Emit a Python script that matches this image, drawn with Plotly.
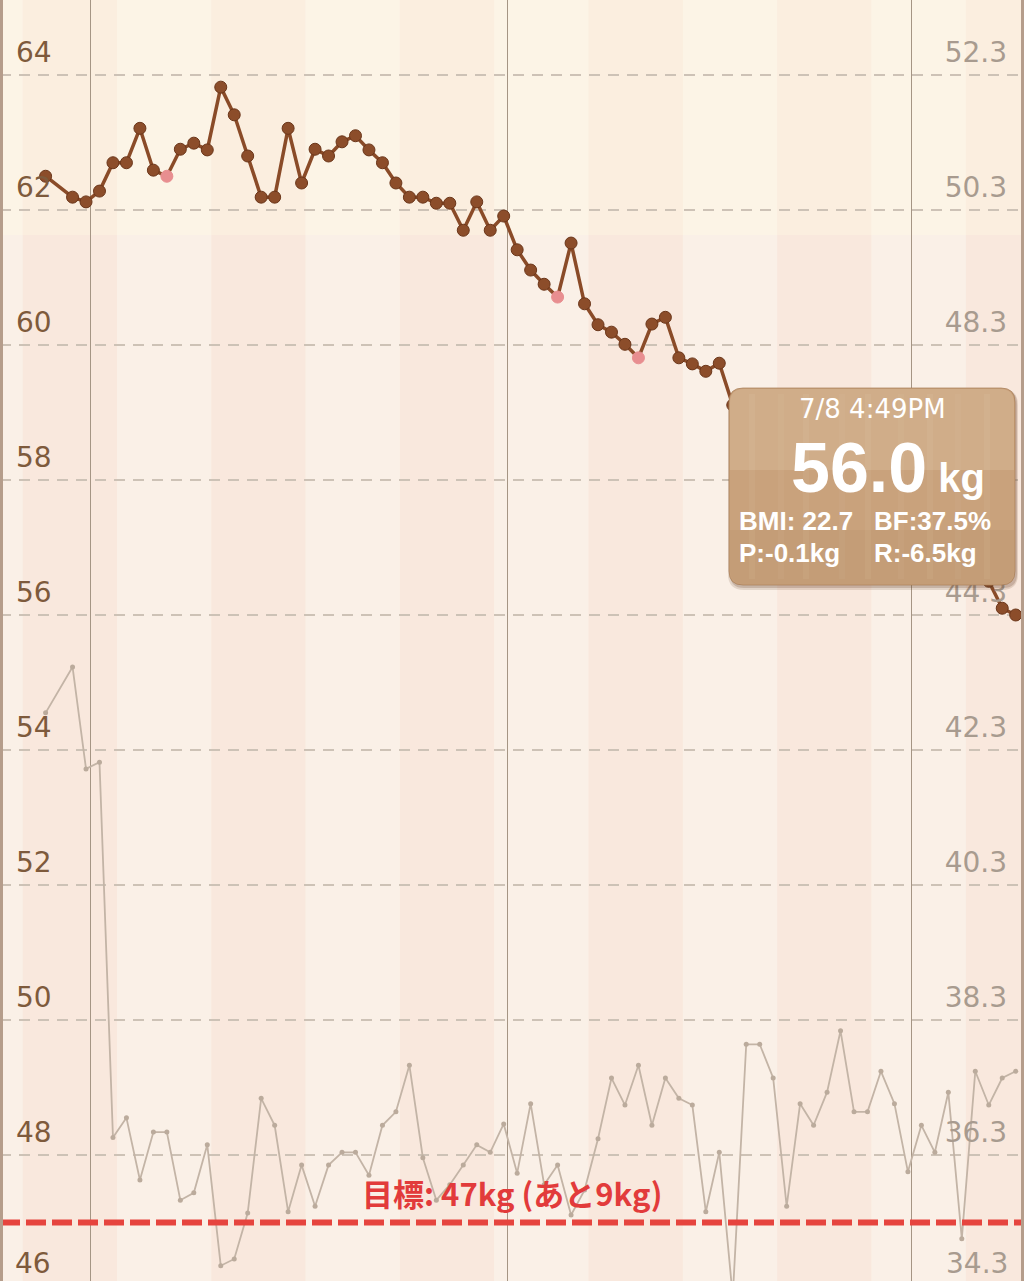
import plotly.graph_objects as go

# ---------------- data ----------------
dates = [
    "2020-04-27", "2020-04-29", "2020-04-30",
    "2020-05-01", "2020-05-02", "2020-05-03", "2020-05-04", "2020-05-05", "2020-05-06", "2020-05-07",
    "2020-05-08", "2020-05-09", "2020-05-10", "2020-05-11", "2020-05-12", "2020-05-13", "2020-05-14",
    "2020-05-15", "2020-05-16", "2020-05-17", "2020-05-18", "2020-05-19", "2020-05-20", "2020-05-21",
    "2020-05-22", "2020-05-23", "2020-05-24", "2020-05-25", "2020-05-26", "2020-05-27", "2020-05-28",
    "2020-05-29", "2020-05-30", "2020-05-31",
    "2020-06-01", "2020-06-02", "2020-06-03", "2020-06-04", "2020-06-05", "2020-06-06", "2020-06-07",
    "2020-06-08", "2020-06-09", "2020-06-10", "2020-06-11", "2020-06-12", "2020-06-13", "2020-06-14",
    "2020-06-15", "2020-06-16", "2020-06-17", "2020-06-18", "2020-06-19", "2020-06-20", "2020-06-21",
    "2020-06-22", "2020-06-23", "2020-06-24", "2020-06-25", "2020-06-26", "2020-06-27", "2020-06-28",
    "2020-06-29", "2020-06-30",
    "2020-07-01", "2020-07-02", "2020-07-03", "2020-07-04", "2020-07-05", "2020-07-06", "2020-07-07",
    "2020-07-08",
]
measure_time = "16:49"

weight_kg = [
    62.50, 62.19, 62.12,
    62.28, 62.70, 62.70, 63.21, 62.59, 62.50, 62.90, 62.99, 62.89, 63.82, 63.41, 62.80, 62.19, 62.19,
    63.21, 62.40, 62.90, 62.80, 63.01, 63.10, 62.89, 62.70, 62.40, 62.19, 62.19, 62.10, 62.10, 61.70,
    62.12, 61.70, 61.91,
    61.41, 61.11, 60.90, 60.71, 61.51, 60.61, 60.30, 60.19, 60.01, 59.81, 60.31, 60.41, 59.81, 59.72,
    59.61, 59.73, 59.11, 59.00, 58.90, 58.70, 58.80, 58.50, 58.40, 58.30, 58.10, 58.20, 57.90, 57.80,
    57.60, 57.50,
    57.30, 57.20, 57.00, 56.80, 56.70, 56.50, 56.10, 56.00,
]

body_fat_pct = [
    42.85, 43.53, 42.02,
    42.12, 36.56, 36.85, 35.93, 36.64, 36.64, 35.63, 35.74, 36.45, 34.66, 34.76, 35.44, 37.14, 36.74,
    35.46, 36.15, 35.54, 36.15, 36.34, 36.34, 36.00, 36.74, 36.94, 37.63, 36.26, 35.63, 35.86, 36.15,
    36.45, 36.34, 36.76,
    36.03, 37.06, 35.86, 36.15, 35.41, 35.78, 36.54, 37.44, 37.04, 37.63, 36.74, 37.44, 37.14, 37.04,
    35.46, 36.34, 34.20, 37.94, 37.94, 37.44, 35.54, 37.06, 36.74, 37.23, 38.14, 36.94, 36.94, 37.54,
    37.06, 36.05,
    36.74, 36.34, 37.23, 35.06, 37.54, 37.04, 37.44, 37.54,
]

highlight_dates = ["2020-05-06", "2020-06-04", "2020-06-10"]

weight_ticks = [46, 48, 50, 52, 54, 56, 58, 60, 62, 64]
fat_ticks = [34.3, 36.3, 38.3, 40.3, 42.3, 44.3, 46.3, 48.3, 50.3, 52.3]
month_starts = ["2020-05-01", "2020-06-01", "2020-07-01"]
week_starts = ["2020-04-19", "2020-04-26", "2020-05-03", "2020-05-10", "2020-05-17", "2020-05-24",
               "2020-05-31", "2020-06-07", "2020-06-14", "2020-06-21", "2020-06-28", "2020-07-05",
               "2020-07-12"]

goal_kg = 47
goal_text = "目標: 47kg (あと9kg)"
tip_date = "7/8 4:49PM"
tip_weight = "56.0"
tip_bmi = "BMI: 22.7"
tip_bf = "BF:37.5%"
tip_prev = "P:-0.1kg"
tip_rest = "R:-6.5kg"

# ---------------- layout constants ----------------
W, H = 1024, 1281
Y_LO, Y_HI = 46.133, 65.111
FAT_OFFSET = 11.7
X_RANGE = ["2020-04-24 07:36", "2020-07-09 07:36"]


def X(px):
    return px / W


def Y(py):
    return 1 - py / H


x_vals = [d + " " + measure_time for d in dates]

fig = go.Figure()

# body fat (right axis)
fig.add_trace(go.Scatter(
    x=x_vals, y=body_fat_pct, yaxis="y2", mode="lines+markers",
    line=dict(color="#C3B4A6", width=1.8),
    marker=dict(size=5, color="#BBAB9C"),
    hoverinfo="skip",
))

# weight (left axis)
mcolors = ["#E88E90" if d in highlight_dates else "#8C4D2A" for d in dates]
mlines = ["#E88E90" if d in highlight_dates else "#6B361A" for d in dates]
fig.add_trace(go.Scatter(
    x=x_vals, y=weight_kg, mode="lines+markers",
    line=dict(color="#8A4B28", width=3.5),
    marker=dict(size=12, color=mcolors, line=dict(color=mlines, width=1)),
    hoverinfo="skip",
))

shapes = []
# weekly background stripes
TOP_SPLIT = Y(235)
for i in range(len(week_starts) - 1):
    pink = (i % 2 == 1)
    shapes.append(dict(type="rect", xref="x", yref="paper", x0=week_starts[i], x1=week_starts[i + 1],
                       y0=0, y1=TOP_SPLIT, line=dict(width=0), layer="below",
                       fillcolor="#F9E8DD" if pink else "#FAF0E7"))
    shapes.append(dict(type="rect", xref="x", yref="paper", x0=week_starts[i], x1=week_starts[i + 1],
                       y0=TOP_SPLIT, y1=1, line=dict(width=0), layer="below",
                       fillcolor="#FBEEDF" if pink else "#FCF4E6"))

# goal line
shapes.append(dict(type="line", xref="paper", yref="y", x0=0, x1=1, y0=goal_kg, y1=goal_kg,
                   line=dict(color="#E6443E", width=6, dash="20px,6px"), layer="above"))

# borders
for bx in (X(1.5), X(1022.5)):
    shapes.append(dict(type="line", xref="paper", yref="paper", x0=bx, x1=bx, y0=0, y1=1,
                       line=dict(color="#B59D8B", width=3), layer="above"))


def rrect(x0, y0, x1, y1, r, top_only=False, bottom_only=False):
    rt = 0 if bottom_only else r
    rb = 0 if top_only else r
    p = f"M {X(x0 + rt)},{Y(y0)} L {X(x1 - rt)},{Y(y0)} "
    p += f"Q {X(x1)},{Y(y0)} {X(x1)},{Y(y0 + rt)} " if rt else ""
    p += f"L {X(x1)},{Y(y1 - rb)} "
    p += f"Q {X(x1)},{Y(y1)} {X(x1 - rb)},{Y(y1)} " if rb else ""
    p += f"L {X(x0 + rb)},{Y(y1)} "
    p += f"Q {X(x0)},{Y(y1)} {X(x0)},{Y(y1 - rb)} " if rb else ""
    p += f"L {X(x0)},{Y(y0 + rt)} "
    p += f"Q {X(x0)},{Y(y0)} {X(x0 + rt)},{Y(y0)} " if rt else ""
    return p + "Z"


TX0, TY0, TX1, TY1, TR = 729, 388, 1015, 585, 14
# shadow
shapes.append(dict(type="path", xref="paper", yref="paper", path=rrect(TX0 - 1, TY0 + 1, TX1 + 3, TY1 + 5, TR + 2),
                   fillcolor="rgba(110,75,45,0.16)", line=dict(width=0), layer="above"))
shapes.append(dict(type="path", xref="paper", yref="paper", path=rrect(TX0 + 1, TY0 + 2, TX1 + 2, TY1 + 3, TR),
                   fillcolor="rgba(100,65,40,0.22)", line=dict(width=0), layer="above"))
# body
shapes.append(dict(type="path", xref="paper", yref="paper", path=rrect(TX0, TY0, TX1, TY1, TR),
                   fillcolor="#C9A27C", line=dict(color="rgba(165,122,84,0.7)", width=1), layer="above"))
shapes.append(dict(type="path", xref="paper", yref="paper", path=rrect(TX0 + 1, TY0 + 1, TX1 - 1, 470, TR, top_only=True),
                   fillcolor="rgba(255,240,222,0.14)", line=dict(width=0), layer="above"))
shapes.append(dict(type="path", xref="paper", yref="paper", path=rrect(TX0 + 1, 530, TX1 - 1, TY1 - 1, TR, bottom_only=True),
                   fillcolor="rgba(120,80,45,0.06)", line=dict(width=0), layer="above"))
# subtle wood grain
for gx, ga in [(752, 0.05), (781, 0.04), (806, 0.05), (842, 0.03), (868, 0.05), (901, 0.04),
               (930, 0.05), (958, 0.03), (987, 0.05)]:
    shapes.append(dict(type="line", xref="paper", yref="paper", x0=X(gx), x1=X(gx), y0=Y(TY0 + 6), y1=Y(TY1 - 6),
                       line=dict(color=f"rgba(255,250,240,{ga})", width=6), layer="above"))

annotations = []
lab_font = dict(family="DejaVu Sans", size=28)
# labels that fall below the visible range of the axes
lo_left = min(weight_ticks)
lo_right = min(fat_ticks)
annotations.append(dict(text=str(lo_left), xref="paper", yref="paper", x=X(13),
                        y=(lo_left - Y_LO) / (Y_HI - Y_LO), xanchor="left", yanchor="middle", yshift=26,
                        showarrow=False, font=dict(color="#7E5A3C", **lab_font)))
annotations.append(dict(text=f"{lo_right:.1f}", xref="paper", yref="paper", x=X(1010),
                        y=(lo_right + FAT_OFFSET - Y_LO) / (Y_HI - Y_LO), xanchor="right", yanchor="middle",
                        yshift=26, showarrow=False, font=dict(color="#A89B8F", **lab_font)))

# goal label
annotations.append(dict(text=f"<b>{goal_text}</b>", xref="paper", yref="y", x=0.5, y=goal_kg, yshift=30,
                        xanchor="center", showarrow=False,
                        font=dict(family="Noto Sans CJK JP", size=31, color="#E23B3B")))

# tooltip texts
tip_font = "Liberation Sans"
annotations.append(dict(text=tip_date, xref="paper", yref="paper", x=X(872), y=Y(409), xanchor="center",
                        yanchor="middle", showarrow=False,
                        font=dict(family="DejaVu Sans", size=26, color="white")))
annotations.append(dict(text=f"<b>{tip_weight}<span style='font-size:40px'> kg</span></b>",
                        xref="paper", yref="paper", x=X(789), y=Y(468), xanchor="left", yanchor="middle",
                        showarrow=False, font=dict(family=tip_font, size=70, color="white")))
for txt, px_, py_ in [(tip_bmi, 737, 521), (tip_bf, 872, 521), (tip_prev, 737, 553), (tip_rest, 872, 553)]:
    annotations.append(dict(text=f"<b>{txt}</b>", xref="paper", yref="paper", x=X(px_), y=Y(py_),
                            xanchor="left", yanchor="middle", showarrow=False,
                            font=dict(family=tip_font, size=26, color="white")))

fig.update_layout(
    width=W, height=H,
    margin=dict(l=0, r=0, t=0, b=0),
    paper_bgcolor="#FAF0E6", plot_bgcolor="#FAF0E6",
    showlegend=False,
    xaxis=dict(type="date", range=X_RANGE, tickvals=month_starts, showgrid=True, gridcolor="#A59584",
               gridwidth=1, showticklabels=False, zeroline=False, showline=False, ticks="", fixedrange=True),
    yaxis=dict(range=[Y_LO, Y_HI], tickvals=weight_ticks, showgrid=True, gridcolor="#CDC2B6", gridwidth=1.5,
               griddash="11px,8px", zeroline=False, showline=False, ticks="",
               ticklabelposition="inside top", ticklabelstandoff=13, ticklabelshift=-3,
               tickfont=dict(color="#7E5A3C", **lab_font)),
    yaxis2=dict(range=[Y_LO - FAT_OFFSET, Y_HI - FAT_OFFSET], overlaying="y", side="right", anchor="x",
                tickvals=fat_ticks, tickformat=".1f", showgrid=False, zeroline=False, showline=False, ticks="",
                ticklabelposition="inside top", ticklabelstandoff=14, ticklabelshift=-3,
                tickfont=dict(color="#A89B8F", **lab_font)),
    shapes=shapes,
    annotations=annotations,
)

fig.write_html("out.html", config={"displayModeBar": False},
               post_script="document.body.style.margin='0';document.body.style.overflow='hidden';")
